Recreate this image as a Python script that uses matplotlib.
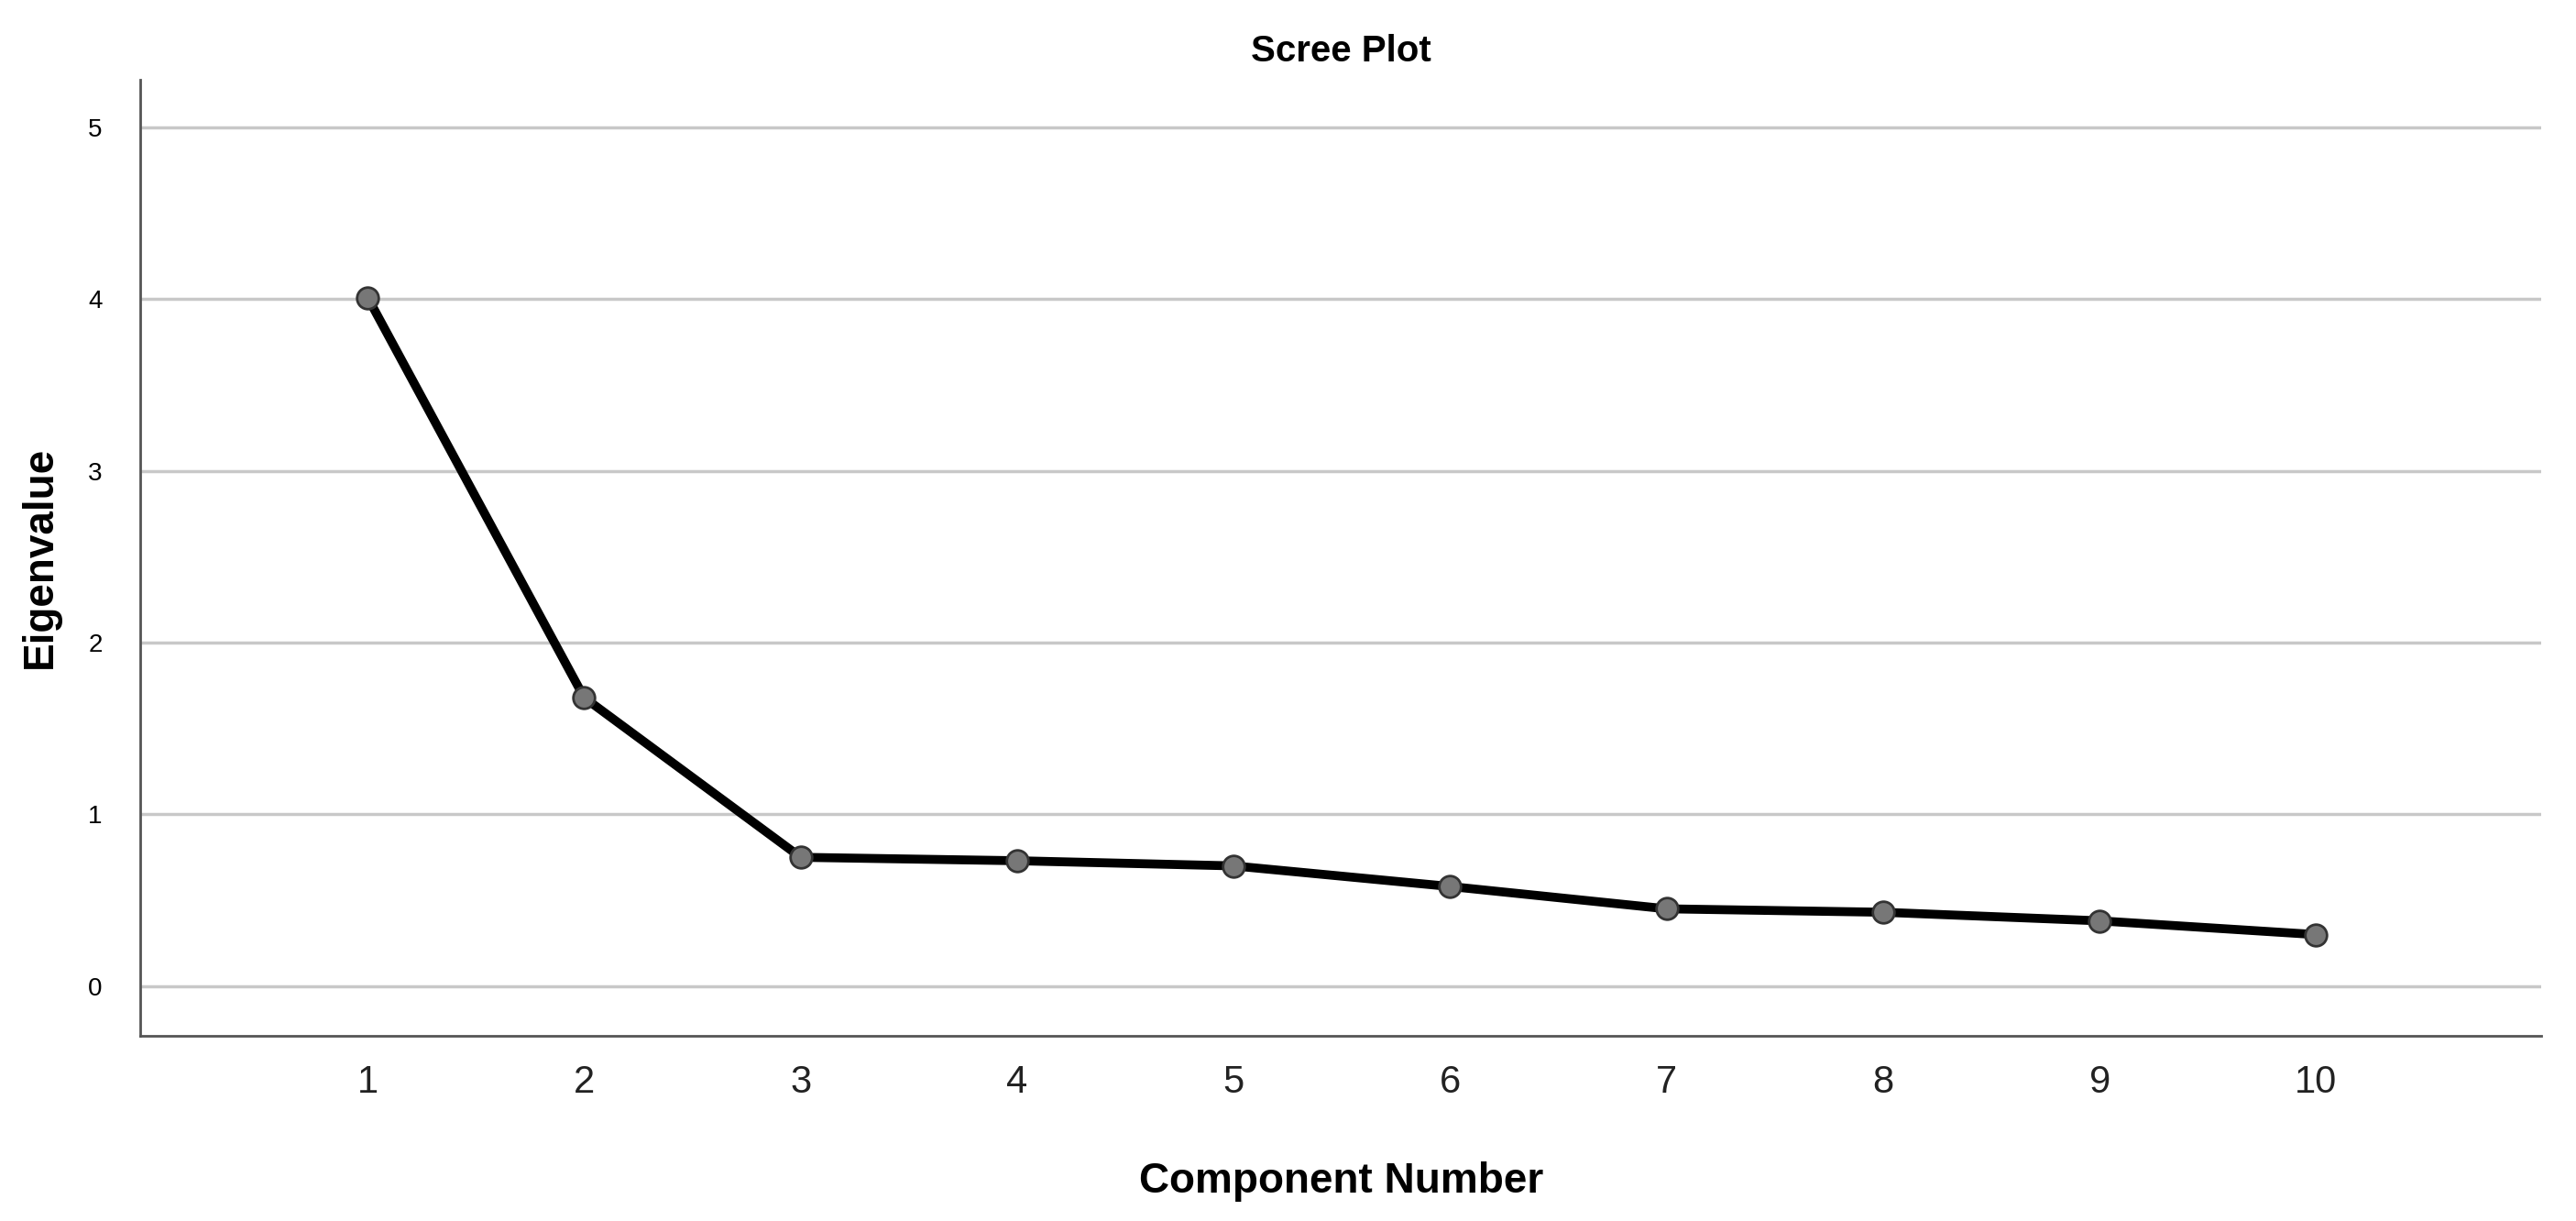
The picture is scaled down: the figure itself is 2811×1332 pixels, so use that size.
import matplotlib

matplotlib.use("Agg")
import matplotlib.pyplot as plt

components = [1, 2, 3, 4, 5, 6, 7, 8, 9, 10]
eigenvalues = [4.01, 1.68, 0.75, 0.73, 0.70, 0.58, 0.45, 0.43, 0.38, 0.30]
y_ticks = [0, 1, 2, 3, 4, 5]

plt.rcParams["font.family"] = ["Liberation Sans", "DejaVu Sans"]

fig = plt.figure(figsize=(28.11, 13.32), dpi=100)
ax = fig.add_axes([0.0545, 0.1516, 0.932, 0.7834])

for y in y_ticks:
    ax.axhline(y, color="#c8c8c8", lw=2.5, zorder=1)

ax.plot(components, eigenvalues, color="black", lw=7, zorder=2)
ax.plot(components, eigenvalues, "o", ms=17, mfc="#777777", mec="#333333", mew=2, zorder=3)

ax.set_xlim(-0.05, 11.04)
ax.set_ylim(-0.29, 5.28)
ax.set_xticks(components)
ax.set_yticks(y_ticks)
ax.tick_params(axis="x", length=0, labelsize=30, pad=22, colors="#222222")
ax.tick_params(axis="y", length=0, labelsize=20, pad=30)
for side in ("top", "right"):
    ax.spines[side].set_visible(False)
for side in ("left", "bottom"):
    ax.spines[side].set_color("#555555")
    ax.spines[side].set_linewidth(2)

ax.set_xlabel("Component Number", fontsize=33, fontweight="bold", labelpad=48)
ax.set_ylabel("Eigenvalue", fontsize=33, fontweight="bold", labelpad=22)
ax.set_title("Scree Plot", fontsize=29, fontweight="bold", pad=14)

fig.savefig("out.png", dpi=100)
